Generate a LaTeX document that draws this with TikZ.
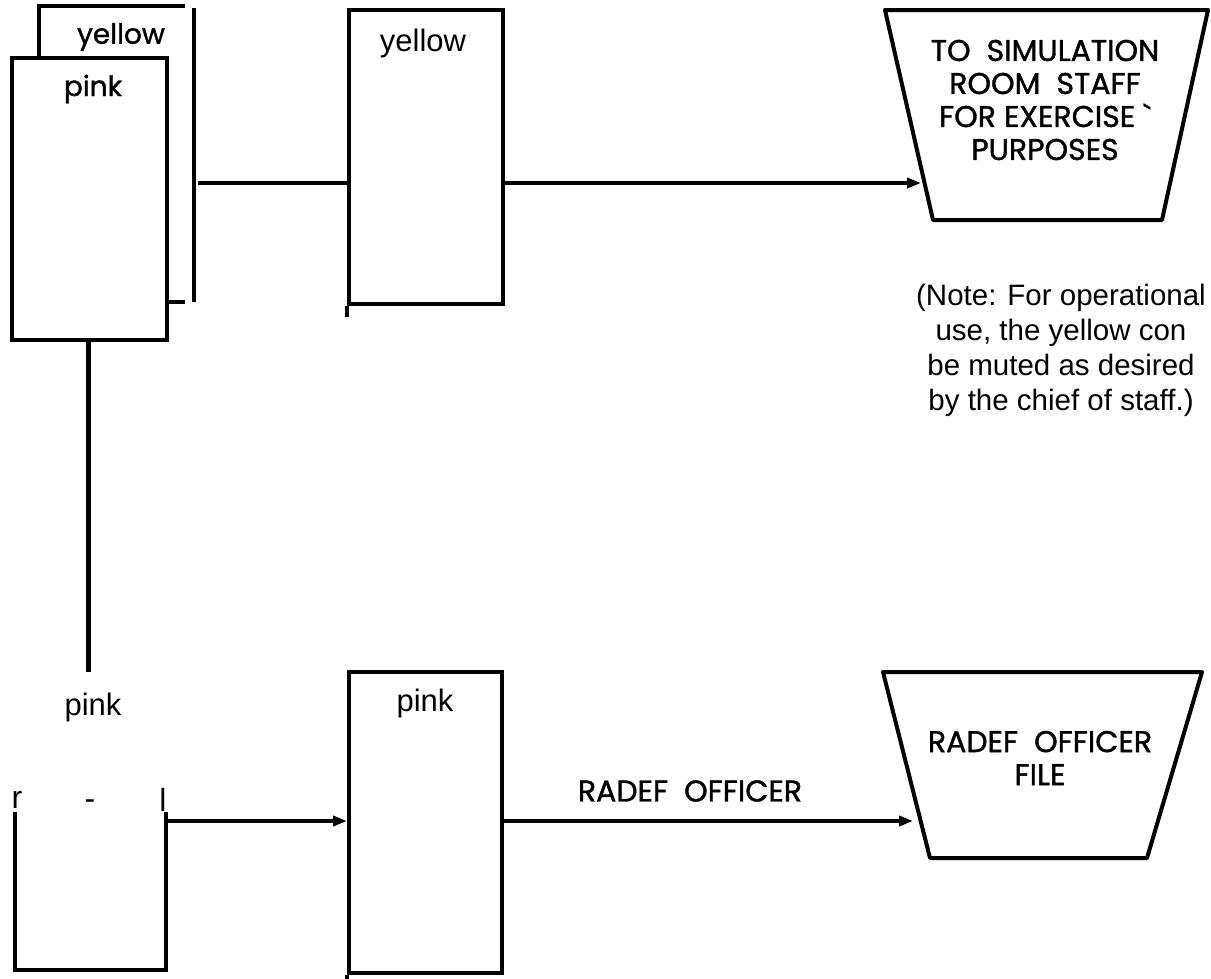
\documentclass[tikz,border=0pt]{standalone}
\usepackage{fontspec}
\setmainfont{Liberation Sans}
\newfontfamily\geo[FakeBold=1.2]{Poppins}
\usetikzlibrary{arrows.meta,calc}
\begin{document}
\begin{tikzpicture}[x=1pt,y=-1pt,
  box/.style={draw,line width=4pt,rectangle,inner sep=0pt,fill=white},
  wire/.style={line width=4pt},
  arr/.style={line width=4pt,-{Triangle[length=14pt,width=10pt]}},
  lab/.style={inner sep=0pt,font=\fontsize{31}{35}\selectfont},
  notelab/.style={inner sep=0pt,font=\fontsize{29.5}{35}\selectfont},
  glab/.style={inner sep=0pt,font=\geo\fontsize{30}{33}\selectfont},
  slab/.style={inner sep=0pt,font=\geo\fontsize{28}{30}\selectfont}]
\useasboundingbox (0,0) rectangle (1211,978);

% ---- top-left stacked copies ----
\draw[wire] (39,58) -- (39,6) -- (185,6);
\draw[wire] (194,8) -- (194,302);
\draw[wire] (166,302) -- (185,302);
\node[slab] (backlab) at (121,37) {yellow};
\node[box,minimum width=155pt,minimum height=282pt] (front) at (89.5,199) {};
\node[slab] (frontlab) at (93,89) {pink};

\coordinate (s1) at (198,183);
\node[box,minimum width=154pt,minimum height=294pt] (mid1) at (426,157) {};
\draw[wire] (mid1.south west) -- ++(0,11);
\node[lab] (mid1lab) at (423,43) {yellow};
\draw[wire] (s1) -- (s1 -| mid1.west);

% ---- top trapezoid ----
\coordinate (T1a) at (885,10);
\coordinate (T1b) at (1208,10);
\coordinate (T1c) at (1162,220);
\coordinate (T1d) at (933,220);
\draw[line width=4pt,line join=round] (T1a) -- (T1b) -- (T1c) -- (T1d) -- cycle;
\node[glab,align=center] (t1txt) at (1045,100)
  {TO\ \ SIMULATION\\ROOM\ \ STAFF\\FOR EXERCISE \textasciigrave\\PURPOSES};
\coordinate (t1in) at (921,183);
\draw[arr] (s1 -| mid1.east) -- (t1in);

\node[notelab,align=center] (note) at (1061,350)
  {(Note: For operational\\use, the yellow con\\be muted as desired\\by the chief of staff.)};

% ---- vertical connector ----
\coordinate (v1) at (88,672);
\draw[line width=5pt] (front.south -| v1) -- (v1);
\node[lab] (pinklab) at (93,707) {pink};

% ---- bottom-left open box ----
\node[inner sep=0pt,font=\fontsize{32}{34}\selectfont] (rr) at (17,800) {r};
\node[inner sep=0pt,font=\fontsize{32}{34}\selectfont] (dash) at (90,805) {-};
\node[inner sep=0pt,font=\fontsize{32}{34}\selectfont] (ll) at (163,800) {l};
\coordinate (bl1) at (15,812);
\coordinate (bl2) at (166,812);
\draw[wire] (bl1) -- (15,970) -- (166,970) -- (bl2);
\coordinate (s2) at (168,821);

\node[box,minimum width=153pt,minimum height=301pt] (mid2) at (425.5,822.5) {};
\draw[wire] (mid2.south west) -- ++(0,5);
\node[lab] (mid2lab) at (425,703) {pink};
\draw[arr] (s2) -- (s2 -| mid2.west);

% ---- bottom trapezoid ----
\coordinate (T2a) at (883,672);
\coordinate (T2b) at (1202,672);
\coordinate (T2c) at (1147,858);
\coordinate (T2d) at (930,858);
\draw[line width=4pt,line join=round] (T2a) -- (T2b) -- (T2c) -- (T2d) -- cycle;
\node[glab,align=center] (t2txt) at (1040,758) {RADEF\ \ OFFICER\\FILE};
\coordinate (t2in) at (913,821);
\draw[arr] (s2 -| mid2.east) -- (t2in);
\node[glab] (radef) at (690,791) {RADEF\ \ OFFICER};
\end{tikzpicture}
\end{document}
